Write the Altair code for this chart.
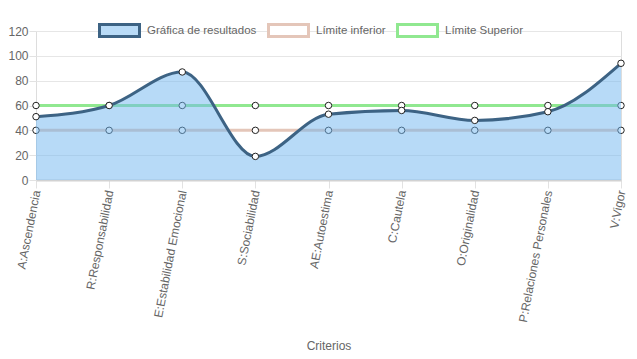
import altair as alt
import pandas as pd

categorias = ["A:Ascendencia", "R:Responsabilidad", "E:Estabilidad Emocional",
              "S:Sociabilidad", "AE:Autoestima", "C:Cautela", "O:Originalidad",
              "P:Relaciones Personales", "V:Vigor"]
resultados = [51, 60, 87, 19, 53, 56, 48, 55, 94]
limite_inferior = [40, 40, 40, 40, 40, 40, 40, 40, 40]
limite_superior = [60, 60, 60, 60, 60, 60, 60, 60, 60]

series = ["Gráfica de resultados", "Límite inferior", "Límite Superior"]
strokes = ["#3d6384", "#e4c6b9", "#90e890"]
fills = ["#b9dbf7", "#ffffff", "#ffffff"]

rows = []
for i, c in enumerate(categorias):
    rows.append({"cat": c, "idx": i, "serie": series[0], "v": resultados[i]})
    rows.append({"cat": c, "idx": i, "serie": series[1], "v": limite_inferior[i]})
    rows.append({"cat": c, "idx": i, "serie": series[2], "v": limite_superior[i]})
df = pd.DataFrame(rows)

FONT = "Liberation Sans"

x = alt.X("cat:N", sort=categorias, title="Criterios",
          scale=alt.Scale(type="point", padding=0),
          axis=alt.Axis(labelAngle=281, labelFontSize=12, labelColor="#666",
                        labelFont=FONT, titleFont=FONT, titleFontSize=12,
                        titleColor="#666", titleFontWeight="normal",
                        titleY=160, tickSize=8, tickColor="#e2e2e2",
                        gridColor="#e6e6e6", domainColor="#d2d2d2",
                        domainWidth=2, labelPadding=2))
y = alt.Y("v:Q", title=None,
          scale=alt.Scale(domain=[0, 120], nice=False, zero=True),
          axis=alt.Axis(values=[0, 20, 40, 60, 80, 100, 120], labelFontSize=12,
                        labelColor="#666", labelFont=FONT, tickSize=7,
                        tickColor="#e2e2e2", gridColor="#e6e6e6",
                        domain=False, labelPadding=1))

path = "M-1,-0.3H1V0.3H-1Z"
leg = alt.Legend(title=None, orient="none", direction="horizontal",
                 legendX=62, legendY=-22, gridAlign="none",
                 symbolType=path, symbolSize=1600, symbolStrokeWidth=3,
                 symbolOpacity=1,
                 labelFontSize=11.5, labelColor="#666", labelFont=FONT,
                 labelOffset=6, columnPadding=5)

stroke = alt.Stroke("serie:N", scale=alt.Scale(domain=series, range=strokes), legend=leg)
fill = alt.Fill("serie:N", scale=alt.Scale(domain=series, range=fills), legend=leg)

base = alt.Chart(df)
limits = base.transform_filter(alt.datum.serie != series[0])
res = base.transform_filter(alt.datum.serie == series[0])

legend_layer = base.mark_point(shape=path, opacity=0, strokeWidth=3, filled=True).encode(
    x=x, y=y, fill=fill, stroke=stroke)
limit_lines = limits.mark_line(strokeWidth=3).encode(x=x, y=y, stroke=stroke, detail="serie:N")
limit_pts = limits.mark_point(shape="circle", filled=True, fill="white", stroke="#222",
                              strokeWidth=1, size=42, opacity=1).encode(x=x, y=y, detail="serie:N")
area = res.mark_area(interpolate="monotone", color="#6fb6f0", opacity=0.5).encode(x=x, y=y)
res_line = res.mark_line(interpolate="monotone", strokeWidth=3).encode(x=x, y=y, stroke=stroke)
res_pts = res.mark_point(shape="circle", filled=True, fill="white", stroke="#222",
                         strokeWidth=1, size=42, opacity=1).encode(x=x, y=y)

chart = alt.layer(legend_layer, limit_lines, limit_pts, area, res_line, res_pts).properties(
    width=585, height=149,
    autosize=alt.AutoSizeParams(type="none"),
    padding={"left": 28, "top": 23, "right": 8, "bottom": 171},
).configure_view(stroke=None).configure(font=FONT)

chart.save("out.html", embed_options={"renderer": "svg", "actions": False})
